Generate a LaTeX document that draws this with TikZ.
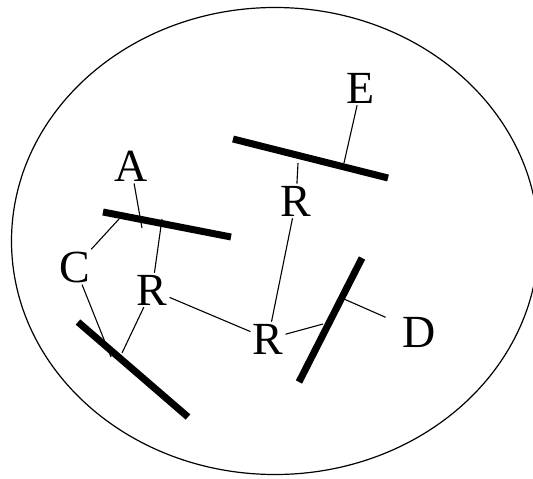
\documentclass[tikz,border=0pt]{standalone}
\usepackage{fontspec}
\setmainfont{Liberation Serif}
\usetikzlibrary{positioning}

\begin{document}
\begin{tikzpicture}[x=1pt,y=-1pt,every node/.style={font=\fontsize{46}{50}\selectfont,inner sep=2pt},
  bar/.style={line width=7pt},link/.style={line width=1.1pt}]
\useasboundingbox (0,0) rectangle (533,479);
\draw[line width=1.2pt] (275,241) ellipse [x radius=263.5pt,y radius=233.5pt];
% bars
\draw[bar] (233,139)--(388,178);
\draw[bar] (103,212)--(231,237);
\draw[bar] (78,322)--(188,417);
\draw[bar] (362,258)--(299,382);
\coordinate (e1) at (344,163);
\coordinate (e2) at (298,163);
\coordinate (a1) at (142,228);
\coordinate (c1) at (119,219);
\coordinate (a2) at (162,219);
\coordinate (c2) at (111,357);
\coordinate (c3) at (122,353);
\coordinate (d1) at (323,324);
\coordinate (d2) at (344,299);
% labels
\node (E) at (361,88) {E};
\node (A) at (131,166) {A};
\node (Rt) at (296,201) {R};
\node (C) at (75,267) {C};
\node (Rm) at (152,290) {R};
\node (Rb) at (268,339) {R};
\node (D) at (419,332) {D};
\draw[link] (E)--(e1);
\draw[link] (Rt)--(e2);
\draw[link] (Rt)--(Rb);
\draw[link] (A)--(a1);
\draw[link] (C)--(c1);
\draw[link] (Rm)--(a2);
\draw[link] (C)--(c2);
\draw[link] (Rm)--(c3);
\draw[link] (Rm)--(Rb);
\draw[link] (Rb)--(d1);
\draw[link,shorten <=16pt] (D)--(d2);
\end{tikzpicture}
\end{document}
